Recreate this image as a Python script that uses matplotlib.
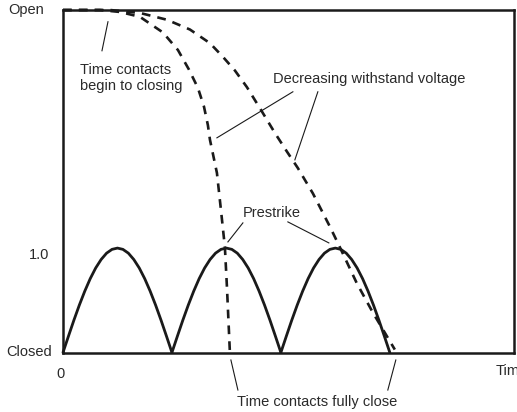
import matplotlib.pyplot as plt
import numpy as np

plt.rcParams['font.family'] = ['Liberation Sans', 'DejaVu Sans']

# axis labels
y_tick_pos = [0.0, 1.0, 3.51]
y_tick_labels = ['Closed', '1.0', 'Open']
x_label_zero = '0'
x_label_end = 'Time'

# one half-cycle of the rectified voltage (x in half-periods)
lobe_x = [0.0, 0.05, 0.1, 0.15, 0.2, 0.25, 0.3, 0.35, 0.4, 0.45, 0.5,
          0.55, 0.6, 0.65, 0.7, 0.75, 0.8, 0.85, 0.9, 0.95, 1.0]
lobe_y = [0.0, 0.167, 0.331, 0.486, 0.629, 0.757, 0.866, 0.953, 1.018, 1.057, 1.07,
          1.057, 1.018, 0.953, 0.866, 0.757, 0.629, 0.486, 0.331, 0.167, 0.0]
lobe_starts = [0.0, 1.0, 2.0]

# withstand voltage curves (dashed)
fast_x = [0.0, 0.339, 0.523, 0.706, 0.917, 1.055, 1.156, 1.239, 1.294, 1.330,
          1.349, 1.413, 1.450, 1.486, 1.505, 1.532]
fast_y = [3.51, 3.51, 3.49, 3.44, 3.28, 3.10, 2.90, 2.71, 2.52, 2.33,
          2.18, 1.84, 1.46, 1.08, 0.67, 0.0]
slow_x = [0.0, 0.431, 0.706, 0.954, 1.165, 1.349, 1.468, 1.578, 1.688, 1.826,
          1.945, 2.055, 2.156, 2.294, 2.450, 2.541, 2.697, 2.844, 3.046]
slow_y = [3.51, 3.51, 3.48, 3.41, 3.31, 3.17, 3.03, 2.89, 2.72, 2.47,
          2.25, 2.06, 1.89, 1.63, 1.29, 1.08, 0.71, 0.41, 0.03]

W, H = 517, 412
fig = plt.figure(figsize=(W / 100, H / 100), dpi=100)
ax = fig.add_axes([63 / W, (H - 352.5) / H, (514 - 63) / W, (352.5 - 10) / H])
ax.set_xlim(0, 4.14)
ax.set_ylim(0, 3.51)
ax.set_xticks([])
ax.set_yticks([])
for s in ax.spines.values():
    s.set_linewidth(1.8)
    s.set_color('#1a1a1a')

ink = '#1a1a1a'
txt = '#2a2a2a'
fs = 10.5

for x0 in lobe_starts:
    ax.plot(np.array(lobe_x) + x0, lobe_y, color=ink, lw=2.0,
            solid_capstyle='round', clip_on=False)

dash = (0, (3.3, 2.7))
ax.plot(fast_x, fast_y, color=ink, lw=1.9, linestyle=dash, clip_on=False)
ax.plot(slow_x, slow_y, color=ink, lw=1.9, linestyle=dash, clip_on=False)


def px(x, y):
    # figure pixel (from top-left) -> data
    return ((x - 63) / 109.0, (352.5 - y) / 97.5)


def leader(p0, p1):
    a = px(*p0)
    b = px(*p1)
    ax.plot([a[0], b[0]], [a[1], b[1]], color=ink, lw=0.8, clip_on=False)


# annotations
ax.text(*px(80, 78), 'Time contacts\nbegin to closing', fontsize=fs, color=txt,
        ha='left', va='center', linespacing=1.15)
leader((102, 51), (108, 22))

ax.text(*px(273, 79), 'Decreasing withstand voltage', fontsize=fs, color=txt,
        ha='left', va='center')
leader((293, 92), (217, 138))
leader((318, 92), (295, 160))

ax.text(*px(243, 213), 'Prestrike', fontsize=fs, color=txt, ha='left', va='center')
leader((243, 223), (228, 242))
leader((288, 222), (329, 243))

ax.text(*px(237, 402), 'Time contacts fully close', fontsize=fs, color=txt,
        ha='left', va='center', clip_on=False)
leader((231, 360), (238, 390))
leader((396, 360), (388, 390))

# axis texts
label_right = [52, 49, 44]
for yv, lab, xr in zip(y_tick_pos, y_tick_labels, label_right):
    ax.text((xr - 63) / 109.0, yv, lab, fontsize=fs, color=txt,
            ha='right', va='center', clip_on=False)
ax.text(*px(60, 374), x_label_zero, fontsize=fs, color=txt, ha='center', va='center')
# the reference crops this label at the right edge
ax.text(*px(496, 371), x_label_end, fontsize=fs, color=txt, ha='left', va='center')

fig.savefig('out.png', dpi=100)
